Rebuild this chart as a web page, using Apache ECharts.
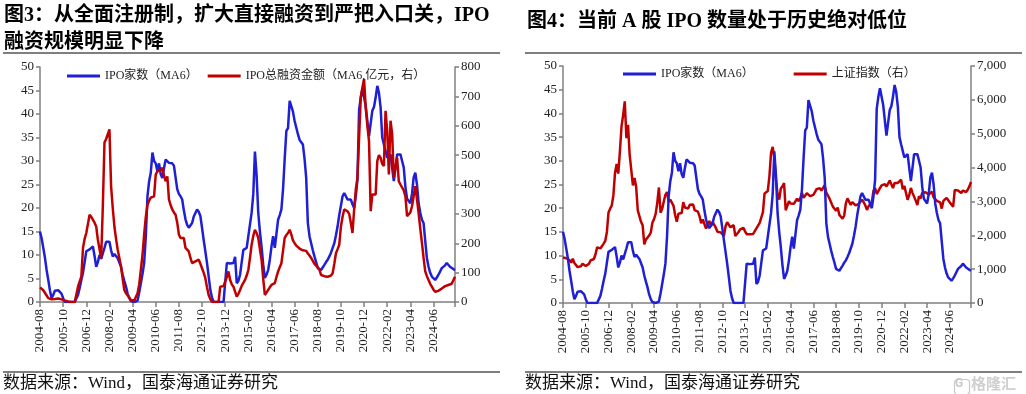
<!DOCTYPE html>
<html><head><meta charset="utf-8">
<script src="https://cdn.jsdelivr.net/npm/echarts@6/dist/echarts.min.js"></script>
<style>html,body{margin:0;padding:0;background:#fff}#c{width:1026px;height:394px}</style>
</head><body><div id="c"></div>
<script>
// ---- categories: monthly, 2004-08 .. 2025-07 ----
const startYear = 2004, startMonth = 8, nMonths = 252;
const months = [];
for (let k = 0; k < nMonths; k++) {
  const m = startMonth - 1 + k;
  const y = startYear + Math.floor(m / 12);
  const mm = (m % 12) + 1;
  months.push(y + '-' + (mm < 10 ? '0' + mm : mm));
}

// IPO家数（MA6）
const ipoCount = [
15.0,13.5,11.5,9.4,6.8,4.7,2.5,0.8,1.5,2.4,
2.6,2.5,2.2,1.8,0.8,0,0,0,0,0,
0,0,0,1.5,3.0,4.7,6.2,8.5,10.8,11.0,
11.2,11.0,11.8,9.8,7.5,8.5,10.0,9.2,9.5,11.5,
12.8,13.0,12.8,11.0,9.7,10.2,10.0,9.3,9.0,7.5,
5.8,4.5,3.3,1.8,0.8,0.2,0,0,0,0.3,
2.0,4.0,6.0,8.3,14.0,22.5,25.7,27.5,31.8,30.0,
29.5,27.8,29.5,27.2,26.4,28.5,30.3,30.0,29.6,30.0,
29.5,29.0,29.3,24.0,23.0,22.5,21.8,19.5,17.6,16.4,
15.8,15.6,16.8,18.2,18.0,19.7,19.2,18.3,15.8,13.2,
10.8,8.3,5.5,2.6,1.0,0,0,0,0,0,
0,0,0,8.3,8.4,8.2,8.3,8.3,9.6,4.0,
4.5,5.8,8.5,11.1,11.0,11.5,14.0,16.5,19.0,23.0,
32.0,27.0,19.0,15.0,11.8,8.0,5.1,5.8,6.8,9.0,
11.8,14.0,11.5,14.5,17.5,18.5,19.7,24.0,30.5,36.4,
37.0,42.8,42.5,40.5,38.5,38.2,35.7,34.5,34.0,33.5,
30.5,26.4,16.8,14.0,12.5,11.0,9.7,8.5,7.2,7.0,
6.8,6.8,7.9,8.5,9.0,9.7,10.5,11.5,12.5,14.2,
16.1,18.5,20.5,22.5,23.2,22.5,21.8,22.0,21.8,20.8,
20.0,22.5,26.0,41.0,43.5,45.3,43.5,41.7,38.5,35.3,
38.0,40.7,41.5,43.5,46.0,44.5,41.4,35.0,33.5,32.1,
30.7,31.0,31.4,28.5,25.7,28.5,31.4,31.0,31.4,30.0,
28.6,24.5,22.0,21.5,21.0,23.0,26.5,27.5,25.0,21.0,
19.0,17.5,16.8,13.0,9.3,7.5,6.2,5.4,5.0,4.7,
5.2,5.8,6.5,7.2,7.5,7.8,8.3,8.0,7.5,7.3,
7.0,6.8
];

// IPO总融资金额（MA6，亿元）
const ipoAmount = [
50,45,40,35,22,13,10,9,9,10,
11,12,11,9,7,5,3,2,1,0,
0,0,0,52,70,86,184,215,235,235,
297,290,286,270,257,212,206,149,326,543,
555,571,588,394,320,257,215,178,150,121,
80,41,30,24,15,7,5,5,7,30,
60,110,160,230,290,330,345,355,350,360,
434,445,451,448,457,430,411,428,349,330,
315,305,297,270,230,218,222,218,184,178,
172,150,132,135,138,142,144,130,115,100,
81,50,24,10,0,0,0,0,0,52,
55,54,58,85,104,75,60,52,35,18,
28,41,55,65,75,90,109,150,195,225,
246,235,218,180,144,80,24,32,41,50,
58,60,64,85,104,118,132,175,218,228,
235,246,230,210,200,192,189,182,178,176,
175,174,165,158,150,140,130,126,118,110,
92,86,88,85,86,86,90,98,130,166,
180,195,257,290,315,312,309,300,270,235,
315,383,423,560,697,730,759,662,600,548,
309,366,360,366,480,500,491,470,463,651,
582,434,617,571,423,460,491,411,400,394,
380,360,292,286,305,326,360,394,350,303,
250,201,150,104,88,75,62,52,42,35,
36,38,41,46,52,54,56,58,60,62,
64,86
];

// 上证指数（右）
const sse = [
1342,1396,1321,1340,1267,
1192,1306,1181,1159,1060,1080,1083,1162,1155,1093,1099,1161,
1258,1299,1299,1440,1642,1672,1612,1658,1753,1838,2099,2675,
2786,2881,3184,3841,4109,3821,4471,5218,5552,5954,4871,5262,
4383,4348,3473,3693,3433,2736,2776,2397,2293,1729,1871,1821,
1991,2082,2373,2477,2633,2959,3412,2667,2779,2996,3195,3277,
2989,3051,3110,2871,2592,2398,2638,2639,2656,2979,2820,2808,
2791,2905,2928,2912,2743,2762,2701,2568,2359,2468,2333,2199,
2293,2428,2263,2397,2373,2225,2103,2047,2086,2069,1980,2269,
2385,2366,2237,2178,2301,1979,1994,2098,2175,2141,2220,2116,
2033,2056,2033,2026,2039,2048,2202,2217,2364,2420,2683,3235,
3210,3310,3748,4441,4612,4277,3664,3206,3053,3383,3446,3539,
2738,2688,3004,2938,2917,2930,2979,3085,3005,3100,3250,3104,
3159,3242,3223,3155,3117,3192,3273,3361,3349,3393,3317,3307,
3481,3259,3169,3082,3095,2847,2876,2725,2821,2603,2588,2494,
2585,2941,3091,3078,2899,2979,2933,2886,2905,2929,2871,3050,
2977,2880,2750,2860,2852,2985,3310,3396,3218,3225,3392,3473,
3483,3509,3442,3447,3615,3591,3397,3544,3568,3547,3564,3640,
3361,3463,3252,3047,3186,3399,3253,3202,3024,2893,3151,3089,
3256,3280,3273,3323,3205,3202,3291,3120,3110,3018,3030,2975,
2789,3015,3041,3105,3087,2967,2939,2842,3336,3280,3326,3352,
3251,3321,3336,3279,3347,3444,3573
];

const nameCount = 'IPO家数（MA6）';
const nameAmount = 'IPO总融资金额（MA6,亿元，右）';
const nameSSE = '上证指数（右）';

const BLUE = '#1f1fd6', RED = '#c00000', AX = '#808080';
const numFont = "'Liberation Serif','Times New Roman',serif";
const mixFont = "'Liberation Serif','Noto Sans CJK SC',serif";

function xAx(gi) {
  return {
    type: 'category', gridIndex: gi, data: months, boundaryGap: false,
    axisLine: { lineStyle: { color: AX, width: 1.5 } },
    axisTick: { length: 5, lineStyle: { color: AX, width: 1.5 },
      interval: (i) => i % 14 === 0 || i === nMonths - 1 },
    axisLabel: { rotate: 90, margin: 7, interval: (i) => i % 14 === 0,
      fontFamily: numFont, fontSize: 13, color: '#222' },
    splitLine: { show: false }
  };
}
function yAx(gi, pos, max, interval, fmt) {
  return {
    type: 'value', gridIndex: gi, position: pos, min: 0, max: max, interval: interval,
    axisLine: { show: true, lineStyle: { color: AX, width: 1.5 } },
    axisTick: { show: true, length: 4, lineStyle: { color: AX, width: 1.5 } },
    axisLabel: { margin: 6, fontFamily: numFont, fontSize: 13, color: '#222', formatter: fmt },
    splitLine: { show: false }
  };
}
const fmtThousands = (v) => v === 0 ? '0' : String(v).replace(/\B(?=(\d{3})+(?!\d))/g, ',');

const chart = echarts.init(document.getElementById('c'), null, { renderer: 'canvas' });
chart.setOption({
  animation: false,
  backgroundColor: '#fff',
  grid: [
    { left: 40, right: 571, top: 67, bottom: 92 },
    { left: 563, right: 55, top: 66, bottom: 91 }
  ],
  xAxis: [xAx(0), xAx(1)],
  yAxis: [
    yAx(0, 'left', 50, 5),
    yAx(0, 'right', 800, 100),
    yAx(1, 'left', 50, 5),
    yAx(1, 'right', 7000, 1000, fmtThousands)
  ],
  legend: [
    { left: 62, top: 65, itemWidth: 33, itemHeight: 3, itemGap: 10, icon: 'rect',
      textStyle: { fontFamily: mixFont, fontSize: 12, color: '#222' },
      data: [nameCount, nameAmount] },
    { left: 618, top: 63, itemWidth: 33, itemHeight: 3, itemGap: 40, icon: 'rect',
      textStyle: { fontFamily: mixFont, fontSize: 12, color: '#222' },
      data: [nameCount, nameSSE] }
  ],
  series: [
    { name: nameCount, type: 'line', xAxisIndex: 0, yAxisIndex: 0, data: ipoCount,
      symbol: 'none', lineStyle: { color: BLUE, width: 2.5 }, itemStyle: { color: BLUE } },
    { name: nameAmount, type: 'line', xAxisIndex: 0, yAxisIndex: 1, data: ipoAmount,
      symbol: 'none', lineStyle: { color: RED, width: 2.5 }, itemStyle: { color: RED } },
    { name: nameSSE, type: 'line', xAxisIndex: 1, yAxisIndex: 3, data: sse,
      symbol: 'none', lineStyle: { color: RED, width: 2.5 }, itemStyle: { color: RED } },
    { name: nameCount, type: 'line', xAxisIndex: 1, yAxisIndex: 2, data: ipoCount,
      symbol: 'none', lineStyle: { color: BLUE, width: 2.5 }, itemStyle: { color: BLUE } }
  ],
  graphic: [
    { type: 'text', left: 4, top: 2, style: {
        text: '图3：从全面注册制，扩大直接融资到严把入口关，IPO\n融资规模明显下降',
        fontFamily: mixFont, fontWeight: 'bold', fontSize: 20, lineHeight: 27, fill: '#000' } },
    { type: 'text', left: 527, top: 12, style: {
        text: '图4：当前 A 股 IPO 数量处于历史绝对低位',
        fontFamily: mixFont, fontWeight: 'bold', fontSize: 20, fill: '#000' } },
    { type: 'line', shape: { x1: 3, y1: 53, x2: 500, y2: 53 }, style: { stroke: '#000', lineWidth: 1.2 } },
    { type: 'line', shape: { x1: 525, y1: 53, x2: 1022, y2: 53 }, style: { stroke: '#000', lineWidth: 1.2 } },
    { type: 'line', shape: { x1: 3, y1: 372, x2: 500, y2: 372 }, style: { stroke: '#000', lineWidth: 1.2 } },
    { type: 'line', shape: { x1: 525, y1: 372, x2: 1022, y2: 372 }, style: { stroke: '#000', lineWidth: 1.2 } },
    { type: 'text', left: 3, top: 375, style: {
        text: '数据来源：Wind，国泰海通证券研究', fontFamily: mixFont, fontSize: 17, fill: '#111' } },
    { type: 'text', left: 525, top: 375, style: {
        text: '数据来源：Wind，国泰海通证券研究', fontFamily: mixFont, fontSize: 17, fill: '#111' } },
    { type: 'rect', left: 952, top: 377, shape: { width: 15, height: 15, r: 3 },
      style: { fill: 'none', stroke: '#c8c8c8', lineWidth: 1.2 } },
    { type: 'text', left: 955, top: 378, style: { text: 'G', fontFamily: 'Roboto', fontSize: 12, fontWeight: 'bold', fill: '#c8c8c8' } },
    { type: 'text', left: 971, top: 376, style: { text: '格隆汇', fontFamily: "'Noto Sans CJK SC'", fontSize: 15, fontWeight: 'bold', fill: '#cfcfcf' } }
  ]
});
</script>
</body></html>
